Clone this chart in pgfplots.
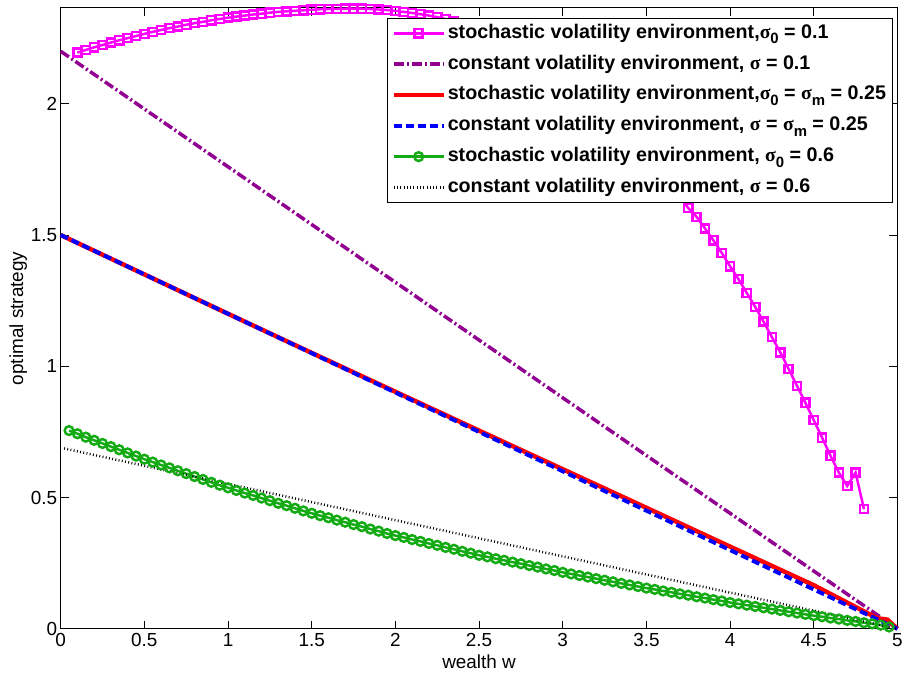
\documentclass[border=0pt]{standalone}
\usepackage{fontspec}
\setmainfont{Liberation Sans}
\newfontfamily\greekfont{Liberation Serif}
\usepackage{pgfplots}
\pgfplotsset{compat=1.18}
\definecolor{mymag}{rgb}{1,0,1}
\definecolor{mypurp}{RGB}{145,0,145}
\definecolor{mygreen}{RGB}{20,170,20}
\newcommand{\sig}{{\greekfont\bfseries σ}}
\newcommand{\sub}[1]{\raisebox{-5.5pt}{\fontsize{15}{15}\selectfont\bfseries #1}}
\begin{document}
\begin{tikzpicture}
\begin{axis}[
  scale only axis,
  width=841pt, height=624pt,
  xmin=0, xmax=5, ymin=0, ymax=2.365,
  xtick={0,0.5,1,1.5,2,2.5,3,3.5,4,4.5,5},
  ytick={0,0.5,1,1.5,2},
  tick align=inside,
  major tick length=8pt,
  tick style={black, line width=0.8pt},
  axis line style={line width=0.9pt},
  /pgf/number format/assume math mode=true,
  ticklabel style={font=\fontsize{19}{19}\selectfont},
  xticklabel style={yshift=-1pt},
  xlabel={wealth w}, ylabel={optimal strategy},
  label style={font=\fontsize{19}{19}\selectfont},
  xlabel style={yshift=-1pt},
  ylabel style={yshift=-3pt},
  clip=false,
  legend cell align=left,
  legend style={at={(0.994,0.984)}, anchor=north east, draw=black, line width=0.9pt, fill=white,
    font=\fontsize{19.8}{21}\selectfont\bfseries, inner xsep=4pt, inner ysep=3pt, row sep=7pt,
    nodes={inner sep=2pt, anchor=west, text height=15pt, text depth=5pt}},
  legend image code/.code={\draw[mark repeat=2,mark phase=2,#1] plot coordinates {(0pt,0pt) (25pt,0pt) (50pt,0pt)};},
]
\coordinate (A) at (rel axis cs:0,0);
\coordinate (B) at (rel axis cs:1,1);
\addplot[mymag, line width=2.5pt, mark=square, mark size=4.1pt, mark options={solid, line width=2.5pt}] coordinates {
(0.10,2.195)(0.15,2.205)(0.20,2.215)(0.25,2.224)(0.30,2.233)(0.35,2.242)(0.40,2.250)(0.45,2.258)(0.50,2.266)(0.55,2.274)(0.60,2.281)(0.65,2.288)(0.70,2.294)(0.75,2.301)(0.80,2.307)(0.85,2.312)(0.90,2.318)(0.95,2.323)(1.00,2.328)(1.05,2.332)(1.10,2.336)(1.15,2.340)(1.20,2.343)(1.25,2.347)(1.30,2.350)(1.35,2.352)(1.40,2.354)(1.45,2.356)(1.50,2.358)(1.55,2.360)(1.60,2.361)(1.65,2.361)(1.70,2.362)(1.75,2.362)(1.80,2.362)(1.85,2.361)(1.90,2.359)(1.95,2.357)(2.00,2.354)(2.05,2.350)(2.10,2.346)(2.15,2.341)(2.20,2.336)(2.25,2.330)(2.30,2.323)(2.35,2.315)(2.40,2.306)(2.45,2.296)(2.50,2.285)(2.55,2.272)(2.60,2.258)(2.65,2.243)(2.70,2.227)(2.75,2.209)(2.80,2.191)(2.85,2.171)(2.90,2.149)(2.95,2.127)(3.00,2.103)(3.05,2.079)(3.10,2.053)(3.15,2.025)(3.20,1.997)(3.25,1.967)(3.30,1.936)(3.35,1.904)(3.40,1.871)(3.45,1.836)(3.50,1.800)(3.55,1.763)(3.60,1.725)(3.65,1.686)(3.70,1.645)(3.75,1.603)(3.80,1.569)(3.85,1.525)(3.90,1.480)(3.95,1.432)(4.00,1.381)(4.05,1.332)(4.10,1.279)(4.15,1.226)(4.20,1.170)(4.25,1.111)(4.30,1.053)(4.35,0.990)(4.40,0.925)(4.45,0.861)(4.50,0.795)(4.55,0.728)(4.60,0.659)(4.65,0.595)(4.70,0.544)(4.75,0.595)(4.80,0.456)
};
\addlegendentry{stochastic volatility environment,\sig\sub{0} = 0.1}
\addplot[mypurp, line width=3.5pt, dash pattern=on 10pt off 3pt on 2pt off 3pt] coordinates {(0,2.2)(5,0)};
\addlegendentry{constant volatility environment, \sig{} = 0.1}
\addplot[red, line width=4.5pt] coordinates {(0,1.5)(0.5,1.35)(1,1.2)(1.5,1.051)(2,0.903)(2.5,0.755)(3,0.608)(3.5,0.461)(4,0.313)(4.5,0.166)(4.88,0.040)(4.94,0.035)(5,0)};
\addlegendentry{stochastic volatility environment,\sig\sub{0} = \sig\sub{m} = 0.25}
\addplot[blue, line width=4pt, dash pattern=on 8pt off 4pt] coordinates {(0,1.5)(5,0)};
\addlegendentry{constant volatility environment, \sig{} = \sig\sub{m} = 0.25}
\addplot[mygreen, line width=2.5pt, mark=o, mark size=4.4pt, mark options={solid, line width=2.5pt}] coordinates {
(0.05,0.755)(0.10,0.743)(0.15,0.730)(0.20,0.718)(0.25,0.706)(0.30,0.694)(0.35,0.682)(0.40,0.670)(0.45,0.658)(0.50,0.646)(0.55,0.635)(0.60,0.624)(0.65,0.613)(0.70,0.602)(0.75,0.591)(0.80,0.580)(0.85,0.569)(0.90,0.558)(0.95,0.547)(1.00,0.537)(1.05,0.527)(1.10,0.517)(1.15,0.508)(1.20,0.498)(1.25,0.488)(1.30,0.478)(1.35,0.469)(1.40,0.459)(1.45,0.449)(1.50,0.440)(1.55,0.431)(1.60,0.423)(1.65,0.414)(1.70,0.406)(1.75,0.397)(1.80,0.389)(1.85,0.380)(1.90,0.372)(1.95,0.363)(2.00,0.355)(2.05,0.348)(2.10,0.340)(2.15,0.333)(2.20,0.325)(2.25,0.318)(2.30,0.310)(2.35,0.303)(2.40,0.295)(2.45,0.288)(2.50,0.280)(2.55,0.274)(2.60,0.267)(2.65,0.261)(2.70,0.254)(2.75,0.248)(2.80,0.241)(2.85,0.235)(2.90,0.228)(2.95,0.222)(3.00,0.215)(3.05,0.209)(3.10,0.203)(3.15,0.197)(3.20,0.191)(3.25,0.185)(3.30,0.179)(3.35,0.173)(3.40,0.167)(3.45,0.161)(3.50,0.155)(3.55,0.150)(3.60,0.144)(3.65,0.139)(3.70,0.133)(3.75,0.128)(3.80,0.122)(3.85,0.117)(3.90,0.111)(3.95,0.106)(4.00,0.100)(4.05,0.095)(4.10,0.090)(4.15,0.085)(4.20,0.080)(4.25,0.075)(4.30,0.070)(4.35,0.065)(4.40,0.060)(4.45,0.055)(4.50,0.050)(4.55,0.046)(4.60,0.041)(4.65,0.037)(4.70,0.032)(4.75,0.028)(4.80,0.023)(4.85,0.019)(4.90,0.014)(4.95,0.007)
};
\addlegendentry{stochastic volatility environment, \sig\sub{0} = 0.6}
\addplot[black, line width=2.5pt, dash pattern=on 0.9pt off 2.4pt] coordinates {(0.02,0.687)(5,0)};
\addlegendentry{constant volatility environment, \sig{} = 0.6}
\end{axis}
\path ([shift={(-61pt,-49pt)}]A) rectangle ([shift={(4pt,8pt)}]B);
\end{tikzpicture}
\end{document}
